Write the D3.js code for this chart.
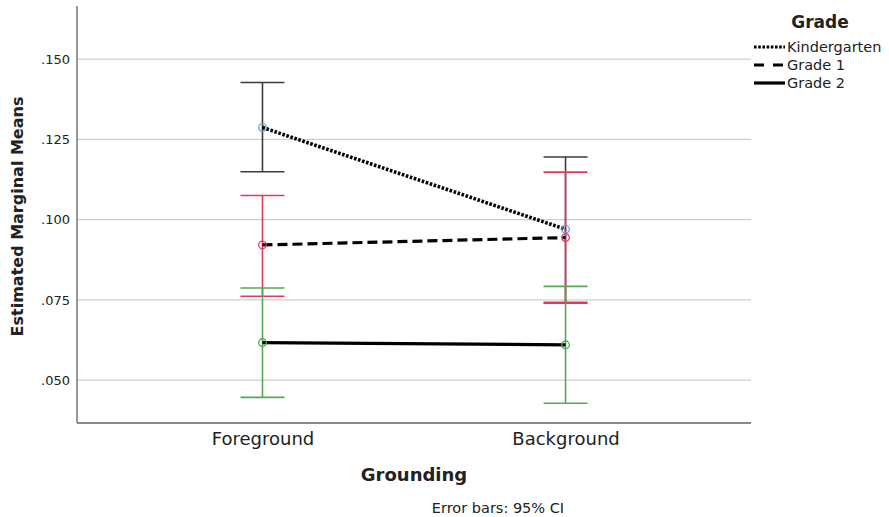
<!DOCTYPE html>
<html><head><meta charset="utf-8">
<script src="https://cdn.jsdelivr.net/npm/d3@7"></script>
<style>body{margin:0;background:#fff}svg{display:block}text{font-family:"DejaVu Sans",sans-serif;fill:#222}</style>
</head><body><svg id="c" width="889" height="517"></svg>
<script>
const categories = ["Foreground", "Background"];
const seriesNames = ["Kindergarten", "Grade 1", "Grade 2"];
const means = [[0.1287, 0.0970], [0.0921, 0.0944], [0.0617, 0.0610]];
const lower = [[0.1149, 0.0740], [0.0761, 0.0742], [0.0446, 0.0428]];
const upper = [[0.1427, 0.1195], [0.1075, 0.1148], [0.0787, 0.0792]];
const yTicks = [0.050, 0.075, 0.100, 0.125, 0.150];

const barColors = ["#3c3c3c", "#e6375f", "#55a854"];
const markerColors = ["#6b9ee0", "#e6375f", "#55a854"];
const dashes = ["2.6,1.6", "10,5", null];
const widths = [3.6, 3.2, 3.2];

const svg = d3.select("#c");
const L = 77, R = 751, T = 6, B = 423;
const x = d3.scalePoint().domain(categories).range([L, R]).padding(0.612);
const y = d3.scaleLinear().domain([0.03663, 0.16655]).range([B, T]);

svg.append("g").selectAll("line").data(yTicks).join("line")
  .attr("x1", L).attr("x2", R).attr("y1", d => y(d)).attr("y2", d => y(d))
  .attr("stroke", "#cfcfcf").attr("stroke-width", 1.3);

const ya = svg.append("g").attr("transform", `translate(${L},0)`)
  .call(d3.axisLeft(y).tickValues(yTicks).tickSize(0).tickPadding(7).tickFormat(d => d3.format(".3f")(d).replace(/^0/, "")));
ya.select(".domain").remove();
ya.selectAll("text").attr("font-size", 13).attr("fill", "#333").style("font-family", "DejaVu Sans");
const xa = svg.append("g").attr("transform", `translate(0,${B})`)
  .call(d3.axisBottom(x).tickSize(0).tickPadding(9));
xa.select(".domain").remove();
xa.selectAll("text").attr("font-size", 18).attr("fill", "#222").style("font-family", "DejaVu Sans");

svg.append("line").attr("x1", L).attr("x2", L).attr("y1", T).attr("y2", B).attr("stroke", "#777").attr("stroke-width", 1.5);
svg.append("line").attr("x1", L).attr("x2", R).attr("y1", B).attr("y2", B).attr("stroke", "#888").attr("stroke-width", 1.8);

const cap = 22;
seriesNames.forEach((s, i) => {
  const g = svg.append("g");
  categories.forEach((c, j) => {
    const cx = x(c);
    g.append("line").attr("x1", cx).attr("x2", cx).attr("y1", y(lower[i][j])).attr("y2", y(upper[i][j]))
      .attr("stroke", barColors[i]).attr("stroke-width", 1.6);
    [lower[i][j], upper[i][j]].forEach(v => {
      g.append("line").attr("x1", cx - cap).attr("x2", cx + cap).attr("y1", y(v)).attr("y2", y(v))
        .attr("stroke", barColors[i]).attr("stroke-width", 1.6);
    });
  });
});

const line = d3.line().x((d, j) => x(categories[j])).y(d => y(d));
seriesNames.forEach((s, i) => {
  svg.append("path").datum(means[i]).attr("d", line).attr("fill", "none")
    .attr("stroke", "#000").attr("stroke-width", widths[i])
    .attr("stroke-dasharray", dashes[i]);
});
seriesNames.forEach((s, i) => {
  categories.forEach((c, j) => {
    svg.append("circle").attr("cx", x(c)).attr("cy", y(means[i][j])).attr("r", 3.8)
      .attr("fill", "none").attr("stroke", markerColors[i]).attr("stroke-width", 1.3);
  });
});

svg.append("text").attr("transform", `translate(23,${(T + B) / 2 + 2}) rotate(-90)`).attr("text-anchor", "middle")
  .attr("font-size", 16).attr("font-weight", "bold").text("Estimated Marginal Means");
svg.append("text").attr("x", (L + R) / 2).attr("y", 481).attr("text-anchor", "middle")
  .attr("font-size", 18).attr("font-weight", "bold").text("Grounding");
svg.append("text").attr("x", 498).attr("y", 513).attr("text-anchor", "middle")
  .attr("font-size", 14.5).text("Error bars: 95% CI");

svg.append("text").attr("x", 820).attr("y", 28).attr("text-anchor", "middle")
  .attr("font-size", 17).attr("font-weight", "bold").text("Grade");
const legDash = ["2.6,1.6", "10,9", null];
seriesNames.forEach((s, i) => {
  const ly = 47 + i * 18;
  svg.append("line").attr("x1", 754).attr("x2", 785).attr("y1", ly).attr("y2", ly)
    .attr("stroke", "#000").attr("stroke-width", 3.2).attr("stroke-dasharray", legDash[i]);
  svg.append("text").attr("x", 787).attr("y", ly + 5).attr("font-size", 14.5).text(s);
});
</script></body></html>
